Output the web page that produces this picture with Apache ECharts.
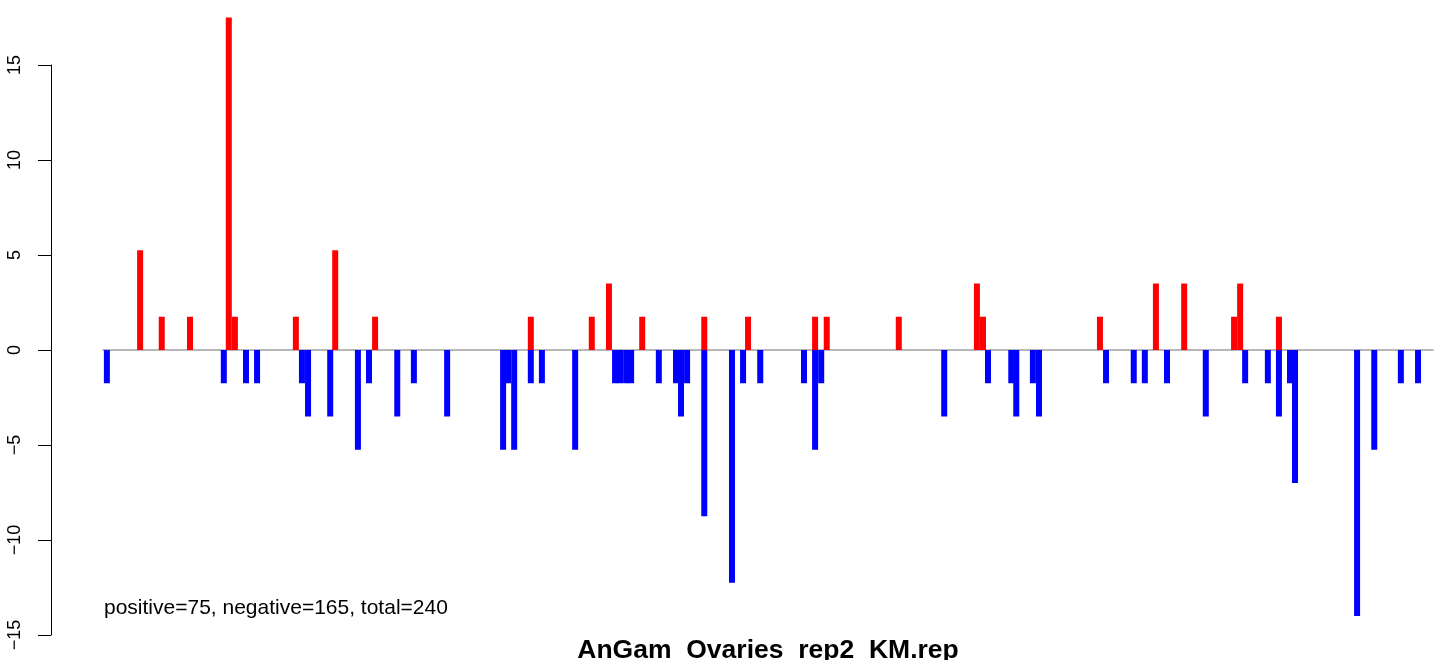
<!DOCTYPE html>
<html><head><meta charset="utf-8">
<script src="https://cdn.jsdelivr.net/npm/echarts@6/dist/echarts.min.js"></script>
<style>html,body{margin:0;padding:0;background:#fff}#c{width:1444px;height:660px}</style>
</head><body><div id="c"></div>
<script>
// positive (red) bars: position, value
const posX = [6.7, 10.6, 15.7, 22.7, 23.8, 34.8, 41.9, 49.1, 77.2, 88.2, 91.3, 97.3, 108.5, 116.4, 128.5, 130.6, 143.6, 157.7, 158.8, 179.9, 190.0, 195.1, 204.1, 205.2, 212.2];
const posY = [5.25, 1.75, 1.75, 17.5, 1.75, 1.75, 5.25, 1.75, 1.75, 1.75, 3.5, 1.75, 1.75, 1.75, 1.75, 1.75, 1.75, 3.5, 1.75, 1.75, 3.5, 3.5, 1.75, 3.5, 1.75];
// negative (blue) bars: position, value
const negX = [0.7, 21.8, 25.8, 27.8, 35.9, 37.0, 41.0, 46.0, 48.0, 53.1, 56.1, 62.1, 72.2, 73.1, 74.2, 77.2, 79.2, 85.2, 92.4, 93.3, 94.4, 95.3, 100.3, 103.4, 104.3, 105.4, 108.5, 113.5, 115.5, 118.6, 126.5, 128.5, 129.6, 151.8, 159.7, 163.9, 164.8, 167.8, 168.9, 181.0, 186.0, 188.0, 192.0, 199.0, 206.1, 210.2, 212.2, 214.2, 215.1, 226.3, 229.4, 234.2, 237.3];
const negY = [-1.75, -1.75, -1.75, -1.75, -1.75, -3.5, -3.5, -5.25, -1.75, -3.5, -1.75, -3.5, -5.25, -1.75, -5.25, -1.75, -1.75, -5.25, -1.75, -1.75, -1.75, -1.75, -1.75, -1.75, -3.5, -1.75, -8.75, -12.25, -1.75, -1.75, -1.75, -5.25, -1.75, -3.5, -1.75, -1.75, -3.5, -1.75, -3.5, -1.75, -1.75, -1.75, -1.75, -3.5, -1.75, -1.75, -3.5, -1.75, -7, -14, -5.25, -1.75, -1.75];
const yTicks = [-15, -10, -5, 0, 5, 10, 15];
const xRange = [0, 240];
const chartTitle = 'AnGam_Ovaries_rep2_KM.rep';
const summary = 'positive=75, negative=165, total=240';

const FONT = '"Liberation Sans", Arial, Helvetica, sans-serif';
const chart = echarts.init(document.getElementById('c'), null, {renderer: 'canvas'});
chart.setOption({
  animation: false,
  backgroundColor: '#ffffff',
  title: [
    {text: chartTitle, left: 768, top: 637, textAlign: 'center', padding: 0,
     textStyle: {fontFamily: FONT, fontWeight: 'bold', fontSize: 26.5, color: '#000'}},
    {text: summary, left: 104, top: 598, padding: 0,
     textStyle: {fontFamily: FONT, fontWeight: 'normal', fontSize: 21, color: '#000'}}
  ],
  grid: {left: 103, right: 11, top: 65, bottom: 25, containLabel: false},
  xAxis: {
    type: 'value', min: xRange[0], max: xRange[1],
    axisLine: {show: true, onZero: true, lineStyle: {color: '#a0a0a0', width: 1.5}},
    axisTick: {show: false}, axisLabel: {show: false}, splitLine: {show: false}
  },
  yAxis: {
    type: 'value', min: yTicks[0], max: yTicks[yTicks.length - 1], interval: 5,
    offset: 52,
    axisLine: {show: true, onZero: false, lineStyle: {color: '#000', width: 1}},
    axisTick: {show: true, length: 13, lineStyle: {color: '#000', width: 1}},
    axisLabel: {rotate: 90, margin: 27, fontFamily: FONT, fontSize: 18, color: '#000',
      formatter: v => String(v).replace('-', '\u2212')},
    splitLine: {show: false}
  },
  series: [
    {type: 'bar', name: 'positive', data: posX.map((x, i) => [x, posY[i]]),
     barWidth: 6, barGap: '-100%', clip: false, itemStyle: {color: '#ff0000'}},
    {type: 'bar', name: 'negative', data: negX.map((x, i) => [x, negY[i]]),
     barWidth: 6, barGap: '-100%', clip: false, itemStyle: {color: '#0000ff'}}
  ]
});
</script></body></html>
